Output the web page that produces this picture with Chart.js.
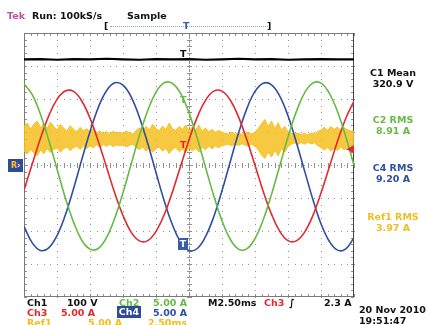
<!DOCTYPE html>
<html>
<head>
<meta charset="utf-8">
<script src="https://cdn.jsdelivr.net/npm/chart.js@4"></script>
<style>
  body { margin: 0; background: #fff; }
  #wrap { position: relative; width: 428px; height: 325px; overflow: hidden;
          font-family: "DejaVu Sans", sans-serif; font-size: 9.5px; font-weight: bold; color: #111; }
  #scope { position: absolute; left: 0; top: 0; }
  .t { position: absolute; white-space: nowrap; line-height: 11px; }
  .panel { position: absolute; left: 356px; width: 74px; text-align: center; line-height: 11px; }
  .green { color: #66bb44; }
  .red { color: #e4282f; }
  .blue { color: #2f4f9f; }
  .yellow { color: #f2bc22; }
</style>
</head>
<body>
<div id="wrap">
  <canvas id="scope" width="428" height="325"></canvas>

  <div class="t" style="left:7px;top:10px;color:#c0509c">Tek</div>
  <div class="t" style="left:32px;top:10px">Run: 100kS/s</div>
  <div class="t" style="left:127px;top:10px">Sample</div>

  <div class="t" style="left:104px;top:20px">[</div>
  <div style="position:absolute;left:110px;top:26px;width:158px;border-top:1px dotted #8ea3d6"></div>
  <div class="t" style="left:183px;top:20px;color:#3b5bab">T</div>
  <div class="t" style="left:267px;top:20px">]</div>

  <div class="t" style="left:180px;top:48px">T</div>
  <div class="t green" style="left:180px;top:94px">T</div>
  <div class="t red" style="left:180px;top:139px">T</div>
  <div class="t" style="left:178px;top:238px;width:10px;height:12px;background:#3b5bab;color:#fff;text-align:center">T</div>
  <div class="t" style="left:8px;top:159px;width:15px;height:13px;background:#2d4b96;color:#f5c020;font-size:8px;line-height:13px;text-align:center">R<span style="color:#fff">›</span></div>

  <div class="panel" style="top:67px">C1 Mean<br>320.9 V</div>
  <div class="panel green" style="top:114px">C2 RMS<br>8.91 A</div>
  <div class="panel blue" style="top:162px">C4 RMS<br>9.20 A</div>
  <div class="panel yellow" style="top:211px">Ref1 RMS<br>3.97 A</div>

  <div class="t" style="left:27px;top:297px">Ch1</div>
  <div class="t" style="left:67px;top:297px">100 V</div>
  <div class="t green" style="left:119px;top:297px">Ch2</div>
  <div class="t green" style="left:153px;top:297px">5.00 A</div>
  <div class="t" style="left:208px;top:297px">M2.50ms</div>
  <div class="t red" style="left:264px;top:297px">Ch3</div>
  <div class="t" style="left:289px;top:297px">∫</div>
  <div class="t" style="left:324px;top:297px">2.3 A</div>

  <div class="t red" style="left:27px;top:307px">Ch3</div>
  <div class="t red" style="left:61px;top:307px">5.00 A</div>
  <div class="t" style="left:117px;top:306px;width:24px;height:12px;background:#2d4b96;color:#fff;text-align:center">Ch4</div>
  <div class="t blue" style="left:153px;top:307px">5.00 A</div>

  <div class="t yellow" style="left:27px;top:317px">Ref1</div>
  <div class="t yellow" style="left:88px;top:317px">5.00 A</div>
  <div class="t yellow" style="left:148px;top:317px">2.50ms</div>

  <div class="t" style="left:359px;top:304px">20 Nov 2010</div>
  <div class="t" style="left:359px;top:315px">19:51:47</div>
</div>

<script>
// time axis in divisions (10 div across, 2.50 ms/div), values in divisions (8 div tall)
const sineT = [0, 0.25, 0.5, 0.75, 1, 1.25, 1.5, 1.75, 2, 2.25, 2.5, 2.75, 3, 3.25, 3.5, 3.75,
  4, 4.25, 4.5, 4.75, 5, 5.25, 5.5, 5.75, 6, 6.25, 6.5, 6.75, 7, 7.25, 7.5, 7.75,
  8, 8.25, 8.5, 8.75, 9, 9.25, 9.5, 9.75, 10];

const ch2 = [2.46, 2.13, 1.53, 0.75, -0.12, -0.99, -1.73, -2.28, -2.55, -2.53, -2.20, -1.61, -0.84,
  0.04, 0.90, 1.65, 2.21, 2.49, 2.47, 2.16, 1.58, 0.81, -0.07, -0.93, -1.69, -2.25, -2.55, -2.54,
  -2.23, -1.66, -0.89, -0.02, 0.85, 1.61, 2.18, 2.48, 2.48, 2.18, 1.62, 0.86, -0.01];

const ch3 = [-0.76, 0.03, 0.81, 1.49, 1.99, 2.24, 2.23, 1.94, 1.42, 0.72, -0.06, -0.85, -1.53,
  -2.04, -2.30, -2.29, -2.01, -1.50, -0.81, -0.02, 0.76, 1.45, 1.96, 2.24, 2.24, 1.97, 1.46, 0.77,
  -0.01, -0.80, -1.49, -2.01, -2.29, -2.30, -2.04, -1.54, -0.85, -0.07, 0.72, 1.41, 1.94];

const ch4 = [-1.86, -2.36, -2.59, -2.51, -2.14, -1.52, -0.72, 0.16, 1.01, 1.74, 2.25, 2.49, 2.42,
  2.06, 1.44, 0.65, -0.23, -1.09, -1.82, -2.34, -2.59, -2.53, -2.17, -1.57, -0.78, 0.10, 0.96, 1.70,
  2.23, 2.48, 2.43, 2.09, 1.49, 0.70, -0.17, -1.03, -1.78, -2.31, -2.58, -2.54, -2.20];

const ch1T = [0, 0.5, 1, 1.5, 2, 2.5, 3, 3.5, 4, 4.5, 5, 5.5, 6, 6.5, 7, 7.5, 8, 8.5, 9, 9.5, 10];
const ch1 = [3.20, 3.21, 3.19, 3.21, 3.20, 3.22, 3.20, 3.19, 3.21, 3.20, 3.21, 3.19, 3.20, 3.22,
  3.20, 3.21, 3.19, 3.20, 3.21, 3.20, 3.20];

const refT = [0, 0.1, 0.2, 0.3, 0.4, 0.5, 0.6, 0.7, 0.8, 0.9, 1, 1.1, 1.2, 1.3, 1.4, 1.5, 1.6, 1.7, 1.8, 1.9,
  2, 2.1, 2.2, 2.3, 2.4, 2.5, 2.6, 2.7, 2.8, 2.9, 3, 3.1, 3.2, 3.3, 3.4, 3.5, 3.6, 3.7, 3.8, 3.9,
  4, 4.1, 4.2, 4.3, 4.4, 4.5, 4.6, 4.7, 4.8, 4.9, 5, 5.1, 5.2, 5.3, 5.4, 5.5, 5.6, 5.7, 5.8, 5.9,
  6, 6.1, 6.2, 6.3, 6.4, 6.5, 6.6, 6.7, 6.8, 6.9, 7, 7.1, 7.2, 7.3, 7.4, 7.5, 7.6, 7.7, 7.8, 7.9,
  8, 8.1, 8.2, 8.3, 8.4, 8.5, 8.6, 8.7, 8.8, 8.9, 9, 9.1, 9.2, 9.3, 9.4, 9.5, 9.6, 9.7, 9.8, 9.9, 10];

const ref1Hi = [1.18, 1.27, 1.08, 1.24, 1.33, 1.13, 1.26, 1.10, 1.30, 1.17,
  1.06, 1.23, 1.12, 1.03, 1.19, 1.08, 1.00, 1.14, 1.04, 1.10,
  1.01, 1.09, 0.97, 1.03, 0.95, 1.01, 0.94, 1.02, 0.96, 1.00,
  0.95, 1.03, 0.97, 0.94, 1.05, 1.12, 1.04, 1.17, 1.07, 1.23,
  1.10, 1.04, 1.18, 1.07, 1.27, 1.09, 1.05, 1.17, 1.08, 1.21,
  1.04, 1.15, 1.06, 1.21, 1.02, 1.12, 1.00, 1.08, 0.98, 1.05,
  0.99, 0.96, 0.94, 1.00, 0.93, 0.98, 0.92, 0.97, 0.99, 0.94,
  1.00, 1.10, 1.25, 1.38, 1.16, 1.33, 1.10, 1.28, 1.06, 1.17,
  1.01, 0.96, 0.93, 0.97, 0.92, 0.96, 0.91, 0.97, 0.93, 1.01,
  1.06, 1.14, 1.05, 1.17, 1.08, 1.15, 1.04, 1.13, 1.07, 1.03, 1.02];

const ref1Lo = [0.42, 0.33, 0.48, 0.36, 0.28, 0.46, 0.34, 0.50, 0.38, 0.47,
  0.52, 0.39, 0.49, 0.55, 0.43, 0.53, 0.57, 0.47, 0.58, 0.50,
  0.58, 0.52, 0.61, 0.55, 0.62, 0.57, 0.63, 0.56, 0.61, 0.58,
  0.62, 0.55, 0.60, 0.63, 0.53, 0.47, 0.55, 0.42, 0.52, 0.39,
  0.49, 0.55, 0.42, 0.51, 0.35, 0.48, 0.54, 0.41, 0.50, 0.37,
  0.52, 0.43, 0.51, 0.39, 0.55, 0.46, 0.57, 0.49, 0.58, 0.52,
  0.59, 0.61, 0.63, 0.58, 0.64, 0.59, 0.65, 0.60, 0.58, 0.63,
  0.57, 0.46, 0.30, 0.20, 0.40, 0.24, 0.44, 0.28, 0.49, 0.39,
  0.56, 0.63, 0.67, 0.62, 0.68, 0.63, 0.69, 0.64, 0.67, 0.59,
  0.53, 0.45, 0.54, 0.42, 0.51, 0.44, 0.55, 0.46, 0.52, 0.56, 0.57];

const trigLevel = 0.48; // Ch3 trigger marker, in divisions

function pts(xs, ys) {
  return xs.map((x, i) => ({ x: x, y: ys[i] }));
}

// graticule: dotted division lines, ticked centre cross and ticked frame
const graticule = {
  id: 'graticule',
  beforeDatasetsDraw(chart) {
    const { ctx, chartArea: a, scales: { x, y } } = chart;
    ctx.save();
    ctx.fillStyle = '#909090';
    for (let i = 1; i < 10; i++) {
      if (i === 5) continue;
      const px = Math.round(x.getPixelForValue(i));
      for (let v = -4; v <= 4.001; v += 0.2) ctx.fillRect(px, Math.round(y.getPixelForValue(v)), 1, 1);
    }
    for (let j = -3; j <= 3; j++) {
      if (j === 0) continue;
      const py = Math.round(y.getPixelForValue(j));
      for (let u = 0; u <= 10.001; u += 0.2) ctx.fillRect(Math.round(x.getPixelForValue(u)), py, 1, 1);
    }
    // centre cross
    const cx = Math.round(x.getPixelForValue(5));
    const cy = Math.round(y.getPixelForValue(0));
    for (let v = -4; v <= 4.001; v += 0.2) ctx.fillRect(cx - 2, Math.round(y.getPixelForValue(v)), 5, 1);
    for (let u = 0; u <= 10.001; u += 0.2) ctx.fillRect(Math.round(x.getPixelForValue(u)), cy - 2, 1, 5);
    for (let v = -4; v <= 4.001; v += 0.04) ctx.fillRect(cx, Math.round(y.getPixelForValue(v)), 1, 1);
    for (let u = 0; u <= 10.001; u += 0.1) ctx.fillRect(Math.round(x.getPixelForValue(u)), cy, 1, 1);
    // frame ticks
    for (let u = 0; u <= 10.001; u += 0.2) {
      const px = Math.round(x.getPixelForValue(u));
      ctx.fillRect(px, a.top, 1, 3);
      ctx.fillRect(px, a.bottom - 3, 1, 3);
    }
    for (let v = -4; v <= 4.001; v += 0.2) {
      const py = Math.round(y.getPixelForValue(v));
      ctx.fillRect(a.left, py, 3, 1);
      ctx.fillRect(a.right - 3, py, 3, 1);
    }
    ctx.fillStyle = '#7a7a7a';
    ctx.fillRect(a.left, a.top, a.right - a.left, 1);
    ctx.fillRect(a.left, a.bottom - 1, a.right - a.left, 1);
    ctx.fillRect(a.left, a.top, 1, a.bottom - a.top);
    ctx.fillStyle = '#444';
    ctx.fillRect(a.right - 1, a.top, 1, a.bottom - a.top);
    ctx.restore();
  },
  afterDatasetsDraw(chart) {
    const { ctx, chartArea: a, scales: { y } } = chart;
    const py = y.getPixelForValue(trigLevel);
    ctx.save();
    ctx.fillStyle = '#e4282f';
    ctx.beginPath();
    ctx.moveTo(a.right - 8, py);
    ctx.lineTo(a.right, py - 4);
    ctx.lineTo(a.right, py + 4);
    ctx.closePath();
    ctx.fill();
    ctx.restore();
  }
};

const yellow = '#f5c01e';

new Chart(document.getElementById('scope'), {
  type: 'line',
  data: {
    datasets: [
      { label: 'Ref1 hi', data: pts(refT, ref1Hi), borderColor: yellow, backgroundColor: 'rgba(245,192,30,0.85)',
        borderWidth: 1, fill: '+1', order: 10 },
      { label: 'Ref1 lo', data: pts(refT, ref1Lo), borderColor: yellow, borderWidth: 1, fill: false, order: 10 },
      { label: 'Ch1', data: pts(ch1T, ch1), borderColor: '#000', borderWidth: 2.2, order: 1 },
      { label: 'Ch2', data: pts(sineT, ch2), borderColor: '#66bb44', borderWidth: 1.6, tension: 0.4, order: 1 },
      { label: 'Ch3', data: pts(sineT, ch3), borderColor: '#e4282f', borderWidth: 1.6, tension: 0.4, order: 1 },
      { label: 'Ch4', data: pts(sineT, ch4), borderColor: '#2f4f9f', borderWidth: 1.6, tension: 0.4, order: 1 }
    ]
  },
  options: {
    responsive: false,
    animation: false,
    devicePixelRatio: 1,
    layout: { padding: { left: 24, top: 33, right: 74, bottom: 28 } },
    elements: { point: { radius: 0 } },
    scales: {
      x: { type: 'linear', min: 0, max: 10, display: false },
      y: { min: -4, max: 4, display: false }
    },
    plugins: { legend: { display: false }, tooltip: { enabled: false } }
  },
  plugins: [graticule]
});
</script>
</body>
</html>
